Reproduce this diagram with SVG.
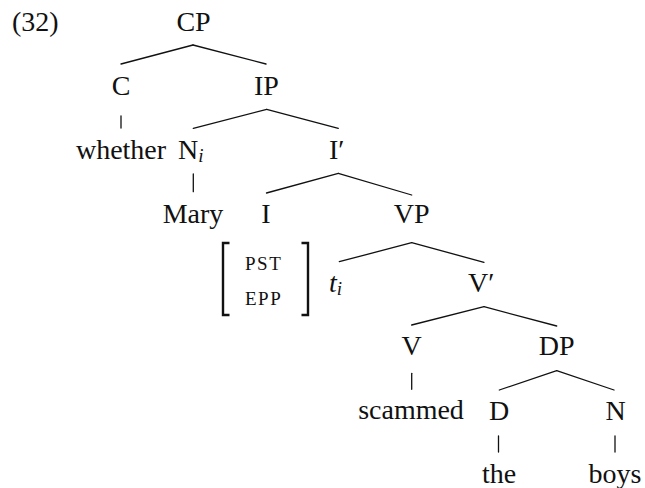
<svg xmlns="http://www.w3.org/2000/svg" width="645" height="488" viewBox="0 0 645 488">
  <style>
    .lbl { font-family: "Liberation Serif", "DejaVu Serif", serif; font-size: 28px; fill: #111; }
    .mid { text-anchor: middle; }
    .it { font-style: italic; }
    .sub { font-style: italic; font-size: 19px; }
    .sc { font-family: "Liberation Serif", "DejaVu Serif", serif; font-size: 19px; letter-spacing: 1.5px; fill: #111; }
    .edge { stroke: #111; stroke-width: 1.3; fill: none; stroke-linecap: round; }
    .brk { stroke: #111; stroke-width: 2.4; fill: none; }
  </style>
  <rect width="645" height="488" fill="#fff"/>

  <text class="lbl" x="12" y="31">(32)</text>

  <!-- connectors -->
  <g id="connectors">
    <!-- CP -->
    <line class="edge" x1="193" y1="45" x2="121" y2="64"/>
    <line class="edge" x1="193" y1="45" x2="266" y2="64"/>
    <!-- C to whether -->
    <line class="edge" x1="121" y1="116" x2="121" y2="128"/>
    <!-- IP -->
    <line class="edge" x1="266.7" y1="109.3" x2="193.3" y2="128.3"/>
    <line class="edge" x1="266.7" y1="109.3" x2="338.3" y2="128.3"/>
    <!-- N to Mary -->
    <line class="edge" x1="193.3" y1="174" x2="193.3" y2="191.7"/>
    <!-- I' -->
    <line class="edge" x1="338.3" y1="173.3" x2="266.5" y2="193"/>
    <line class="edge" x1="338.3" y1="173.3" x2="411.7" y2="195"/>
    <!-- VP -->
    <line class="edge" x1="411.7" y1="242.7" x2="339.3" y2="261.7"/>
    <line class="edge" x1="411.7" y1="242.7" x2="484" y2="262.3"/>
    <!-- V' -->
    <line class="edge" x1="484" y1="306.7" x2="411.7" y2="325"/>
    <line class="edge" x1="484" y1="306.7" x2="556.7" y2="326"/>
    <!-- V to scammed -->
    <line class="edge" x1="411.7" y1="373.3" x2="411.7" y2="389.3"/>
    <!-- DP -->
    <line class="edge" x1="556.7" y1="370.7" x2="499.3" y2="390"/>
    <line class="edge" x1="556.7" y1="370.7" x2="614" y2="390"/>
    <!-- D to the, N to boys -->
    <line class="edge" x1="498.5" y1="436" x2="498.5" y2="452"/>
    <line class="edge" x1="615" y1="436" x2="615" y2="452"/>
  </g>

  <!-- nodes -->
  <g id="n-CP"><text class="lbl mid" x="193.5" y="31">CP</text></g>
  <g id="n-C"><text class="lbl mid" x="121" y="95">C</text></g>
  <g id="n-IP"><text class="lbl mid" x="266.5" y="95">IP</text></g>
  <g id="n-whether"><text class="lbl mid" x="121" y="159">whether</text></g>
  <g id="n-N"><text class="lbl" x="178" y="159">N<tspan class="sub" dy="3">i</tspan></text></g>
  <g id="n-Ibar"><text class="lbl" x="329" y="159">I′</text></g>
  <g id="n-Mary"><text class="lbl mid" x="193" y="223">Mary</text></g>
  <g id="n-I"><text class="lbl mid" x="266" y="223">I</text></g>
  <g id="n-VP"><text class="lbl mid" x="411.7" y="223">VP</text></g>
  <g id="n-features">
    <path class="brk" d="M229.5,243 H223 V315 H229.5"/>
    <path class="brk" d="M301.5,243 H308 V315 H301.5"/>
    <text class="sc" x="245" y="269.5">PST</text>
    <text class="sc" x="245" y="305">EPP</text>
  </g>
  <g id="n-t"><text class="lbl it" x="329" y="292">t<tspan class="sub" dy="3">i</tspan></text></g>
  <g id="n-Vbar"><text class="lbl" x="468" y="292">V′</text></g>
  <g id="n-V"><text class="lbl mid" x="411.7" y="355">V</text></g>
  <g id="n-DP"><text class="lbl mid" x="556.7" y="355">DP</text></g>
  <g id="n-scammed"><text class="lbl mid" x="411" y="419">scammed</text></g>
  <g id="n-D"><text class="lbl mid" x="499" y="420">D</text></g>
  <g id="n-Nb"><text class="lbl mid" x="615.5" y="420">N</text></g>
  <g id="n-the"><text class="lbl mid" x="499" y="483">the</text></g>
  <g id="n-boys"><text class="lbl mid" x="615" y="483">boys</text></g>
</svg>
